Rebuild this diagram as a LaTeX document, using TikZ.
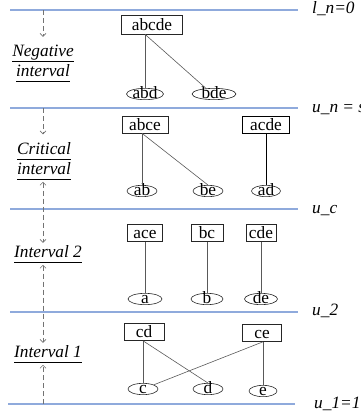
\documentclass[tikz,border=0pt]{standalone}
\usepackage{fontspec}
\setmainfont{Liberation Serif}
\usepackage{tikz}
\usetikzlibrary{positioning,shapes.geometric,arrows.meta}

\definecolor{levelblue}{HTML}{8FAADC}

% underlined interval name, same depth for every word
\newcommand{\ulabel}[1]{\underline{#1\vphantom{g}}}

\begin{document}
\fontsize{17.3}{19.5}\selectfont
\begin{tikzpicture}[
        x=1pt,
        y=-1pt,
        >={Straight Barb[length=3pt,width=6pt]},
        level/.style={
            draw=levelblue,
            line width=1.2pt
        },
        itemset/.style={
            rectangle,
            draw=black!85,
            line width=0.6pt,
            inner sep=0pt,
            minimum height=17pt,
            text height=11pt,
            text depth=0pt
        },
        subset/.style={
            ellipse,
            draw=black!85,
            line width=0.6pt,
            inner sep=0pt,
            minimum height=10.5pt,
            text height=8pt,
            text depth=-2pt
        },
        link/.style={
            draw=black!65,
            line width=0.6pt
        },
        bound/.style={
            anchor=base west,
            inner sep=0pt,
            font=\itshape
        },
        interval/.style={
            anchor=base,
            align=center,
            inner sep=2pt,
            font=\itshape
        },
        flow/.style={
            draw=black!55,
            line width=0.6pt,
            dash pattern=on 5pt off 3pt
        }
    ]

    \useasboundingbox (0,0) rectangle (360,418);

    % Level lines
    \coordinate (ln) at (10,10);
    \coordinate (un) at (10,108);
    \coordinate (uc) at (10,209);
    \coordinate (u2) at (10,312);
    \coordinate (u1) at (8,404);

    \draw[level] (ln) -- (298,10);
    \draw[level] (un) -- (298,108);
    \draw[level] (uc) -- (298,209);
    \draw[level] (u2) -- (298,312);
    \draw[level] (u1) -- (295,404);

    % Bounds on the right
    \node[bound] (lnlab) at (312,13) {l\_n=0};
    \node[bound] (unlab) at (312,112) {u\_n = s};
    \node[bound] (uclab) at (312,213) {u\_c};
    \node[bound] (u2lab) at (312,315) {u\_2};
    \node[bound] (u1lab) at (314,408) {u\_1=1};

    % Interval names on the left (base is the last line)
    \coordinate (axis) at (43,0);

    \node[interval] (neg) at (43,76) {\ulabel{Negative}\\\ulabel{interval}};
    \node[interval] (crit) at (44,174) {\ulabel{Critical}\\\ulabel{interval}};
    \node[interval] (int2) at (48,257) {\ulabel{Interval 2}};
    \node[interval] (int1) at (48,357) {\ulabel{Interval 1}};

    \draw[flow,->,shorten >=6pt] (ln -| axis) -- (neg.north -| axis);
    \draw[flow,->,shorten >=6pt] (un -| axis) -- (crit.north -| axis);
    \draw[flow,<->] (crit.south -| axis) -- (int2.north -| axis);
    \draw[flow,<->] (int2.south -| axis) -- (int1.north -| axis);
    \draw[flow,->] (u1 -| axis) -- (int1.south -| axis);

    % Negative interval
    \node[itemset,minimum width=61pt,minimum height=19pt] (abcde) at (152,24.5) {abcde};
    \node[subset,minimum width=37pt] (abd) at (145,94) {abd};
    \node[subset,minimum width=44pt] (bde) at (214,94) {bde};

    \draw[link] (abcde.south -| abd.north) -- (abd.north);
    \draw[link] (abcde.south -| abd.north) -- (bde.145);

    % Critical interval
    \node[itemset,minimum width=46pt] (abce) at (145,124.5) {abce};
    \node[itemset,minimum width=47pt,draw=black] (acde) at (266,124.5) {acde};
    \node[subset,minimum width=30pt] (ab) at (142,191) {ab};
    \node[subset,minimum width=30pt] (be) at (208,191) {be};
    \node[subset,minimum width=29pt] (ad) at (266,191) {ad};

    \draw[link] (abce.south -| ab.north) -- (ab.north);
    \draw[link] (abce.south -| ab.north) -- (be.north);
    \draw[link,draw=black] (acde.south) -- (ad.north);

    % Interval 2
    \node[itemset,minimum width=35pt] (ace) at (145,233) {ace};
    \node[itemset,minimum width=32pt] (bc) at (207,233) {bc};
    \node[itemset,minimum width=30pt] (cde) at (261,233) {cde};
    \node[subset,minimum width=34pt] (a) at (145,299) {a};
    \node[subset,minimum width=32pt] (b) at (207,299) {b};
    \node[subset,minimum width=33pt] (de) at (261,299) {de};

    \foreach \s/\t in {ace/a,bc/b,cde/de}
        \draw[link] (\s.south) -- (\t.north);

    % Interval 1
    \node[itemset,minimum width=40pt] (cd) at (144,332) {cd};
    \node[itemset,minimum width=39pt] (ce) at (262,333) {ce};
    \node[subset,minimum width=30pt] (c) at (143,389) {c};
    \node[subset,minimum width=30pt] (d) at (208,389) {d};
    \node[subset,minimum width=28pt] (e) at (263,391) {e};

    \draw[link] (cd.south -| c.north) -- (c.north);
    \draw[link] (cd.south -| c.north) -- (d.north);
    \draw[link] (ce.south -| e.north) -- (c.north east);
    \draw[link] (ce.south -| e.north) -- (e.north);

\end{tikzpicture}
\end{document}
